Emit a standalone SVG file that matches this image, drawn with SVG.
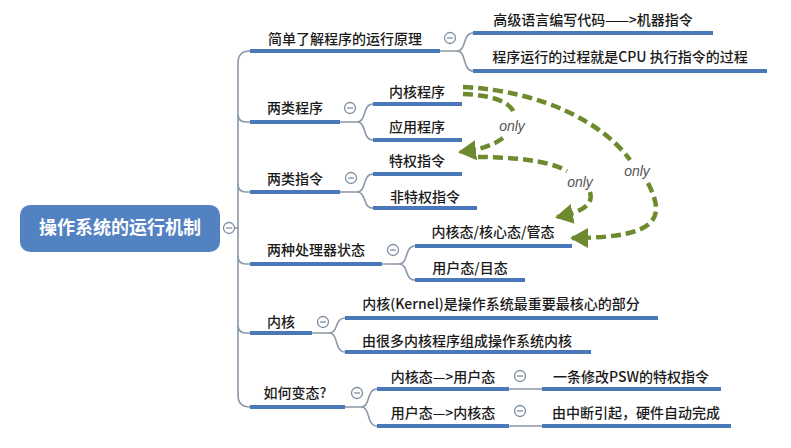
<svg xmlns="http://www.w3.org/2000/svg" width="791" height="448" viewBox="0 0 791 448">
<defs>
<style>
.t{font-family:"Noto Sans CJK SC","Liberation Sans",sans-serif;font-size:14px;font-weight:500;fill:#1a1a1a;text-anchor:middle}
.root{font-family:"Noto Sans CJK SC","Liberation Sans",sans-serif;font-size:18px;font-weight:bold;fill:#ffffff;text-anchor:middle}
.ul{stroke:#4a78b8;stroke-width:4;fill:none}
.cn{stroke:#8b98a8;stroke-width:1.6;fill:none}
.cc{fill:#ffffff;stroke:#7d8ea3;stroke-width:1.3}
.cm{stroke:#7d8ea3;stroke-width:1.3}
.ar{stroke:#6d8b2e;stroke-width:4.5;stroke-dasharray:10 5;fill:none}
.only{font-family:"Liberation Sans",sans-serif;font-style:italic;font-size:14px;fill:#555;text-anchor:middle}
</style>
<marker id="ah" viewBox="0 0 18 20" refX="16" refY="10" markerWidth="18" markerHeight="20" markerUnits="userSpaceOnUse" orient="auto">
<path d="M0,0 L18,10 L0,20 z" fill="#6d8b2e"/>
</marker>
<g id="col"><circle class="cc" r="5.5"/><line class="cm" x1="-3" y1="0" x2="3" y2="0"/></g>
</defs>
<rect width="791" height="448" fill="#ffffff"/>

<g id="connectors">
<path class="cn" d="M235,228 L238,228"/>
<path class="cn" d="M250,51 Q238,51 238,63 L238,395 Q238,407 250,407"/>
<path class="cn" d="M238,114 Q238,122 246,122 L250,122"/>
<path class="cn" d="M238,184 Q238,192 246,192 L250,192"/>
<path class="cn" d="M238,256 Q238,264 246,264 L250,264"/>
<path class="cn" d="M238,325 Q238,333 246,333 L250,333"/>
<path class="cn" d="M440,51 L457,51 C467,51 462,33 473,33 M457,51 C467,51 462,71 473,71"/>
<path class="cn" d="M340,122 L357,122 C367,122 362,104 373,104 M357,122 C367,122 362,140 373,140"/>
<path class="cn" d="M340,192 L357,192 C367,192 362,174 373,174 M357,192 C367,192 362,208 373,208"/>
<path class="cn" d="M382,264 L399,264 C409,264 404,246 415,246 M399,264 C409,264 404,280 415,280"/>
<path class="cn" d="M312,333 L329,333 C339,333 334,318 345,318 M329,333 C339,333 334,352 345,352"/>
<path class="cn" d="M345,407 L361,407 C371,407 366,389 377,389 M361,407 C371,407 366,426 377,426"/>
<path class="cn" d="M509,389 L542,389 M509,426 L542,426"/>
<path class="ar" d="M463,94 C490,95 510,101 514,113"/>
<path class="ar" d="M503,138 C492,146 478,150 460,152" marker-end="url(#ah)"/>
<path class="ar" d="M478,157 C510,157 548,160 567,171"/>
<path class="ar" d="M590,192 C594,205 582,212 557,217" marker-end="url(#ah)"/>
<path class="ar" d="M463,87 C545,91 605,125 630,160"/>
<path class="ar" d="M648,183 C664,215 664,238 572,238" marker-end="url(#ah)"/>
</g>

<text class="only" x="512" y="131">only</text>
<text class="only" x="580" y="187">only</text>
<text class="only" x="637" y="176">only</text>

<g id="root">
<rect x="20" y="205" width="200" height="47" rx="10" fill="#5282c2"/>
<text class="root" x="120" y="234">操作系统的运行机制</text>
<use href="#col" x="229" y="228"/>
</g>

<g id="n1">
<path class="ul" d="M250,51 H440"/>
<text class="t" x="345" y="44">简单了解程序的运行原理</text>
<use href="#col" x="450" y="38"/>
</g>
<g id="n1a"><path class="ul" d="M473,33 H713"/><text class="t" x="593" y="25">高级语言编写代码——&gt;机器指令</text></g>
<g id="n1b"><path class="ul" d="M473,71 H767"/><text class="t" x="620" y="62">程序运行的过程就是CPU 执行指令的过程</text></g>

<g id="n2">
<path class="ul" d="M250,122 H340"/>
<text class="t" x="295" y="113">两类程序</text>
<use href="#col" x="350" y="108"/>
</g>
<g id="n2a"><path class="ul" d="M373,104 H462"/><text class="t" x="417" y="97">内核程序</text></g>
<g id="n2b"><path class="ul" d="M373,140 H462"/><text class="t" x="417" y="132">应用程序</text></g>

<g id="n3">
<path class="ul" d="M250,192 H340"/>
<text class="t" x="295" y="184">两类指令</text>
<use href="#col" x="351" y="178"/>
</g>
<g id="n3a"><path class="ul" d="M373,174 H462"/><text class="t" x="417" y="166">特权指令</text></g>
<g id="n3b"><path class="ul" d="M373,208 H477"/><text class="t" x="425" y="202">非特权指令</text></g>

<g id="n4">
<path class="ul" d="M250,264 H382"/>
<text class="t" x="316" y="255">两种处理器状态</text>
<use href="#col" x="393" y="250"/>
</g>
<g id="n4a"><path class="ul" d="M415,246 H572"/><text class="t" x="493" y="237">内核态/核心态/管态</text></g>
<g id="n4b"><path class="ul" d="M415,280 H525"/><text class="t" x="470" y="273">用户态/目态</text></g>

<g id="n5">
<path class="ul" d="M250,333 H312"/>
<text class="t" x="281" y="327">内核</text>
<use href="#col" x="323" y="322"/>
</g>
<g id="n5a"><path class="ul" d="M345,318 H658"/><text class="t" x="501" y="309">内核(Kernel)是操作系统最重要最核心的部分</text></g>
<g id="n5b"><path class="ul" d="M345,352 H591"/><text class="t" x="467" y="346">由很多内核程序组成操作系统内核</text></g>

<g id="n6">
<path class="ul" d="M250,407 H345"/>
<text class="t" x="295" y="398">如何变态?</text>
<use href="#col" x="357" y="393"/>
</g>
<g id="n6a"><path class="ul" d="M377,389 H509"/><text class="t" x="443" y="382">内核态—&gt;用户态</text><use href="#col" x="520" y="376"/></g>
<g id="n6b"><path class="ul" d="M377,426 H509"/><text class="t" x="443" y="418">用户态—&gt;内核态</text><use href="#col" x="520" y="411"/></g>
<g id="n6a1"><path class="ul" d="M542,389 H721"/><text class="t" x="631" y="382">一条修改PSW的特权指令</text></g>
<g id="n6b1"><path class="ul" d="M542,426 H731"/><text class="t" x="636" y="418">由中断引起，硬件自动完成</text></g>
</svg>
